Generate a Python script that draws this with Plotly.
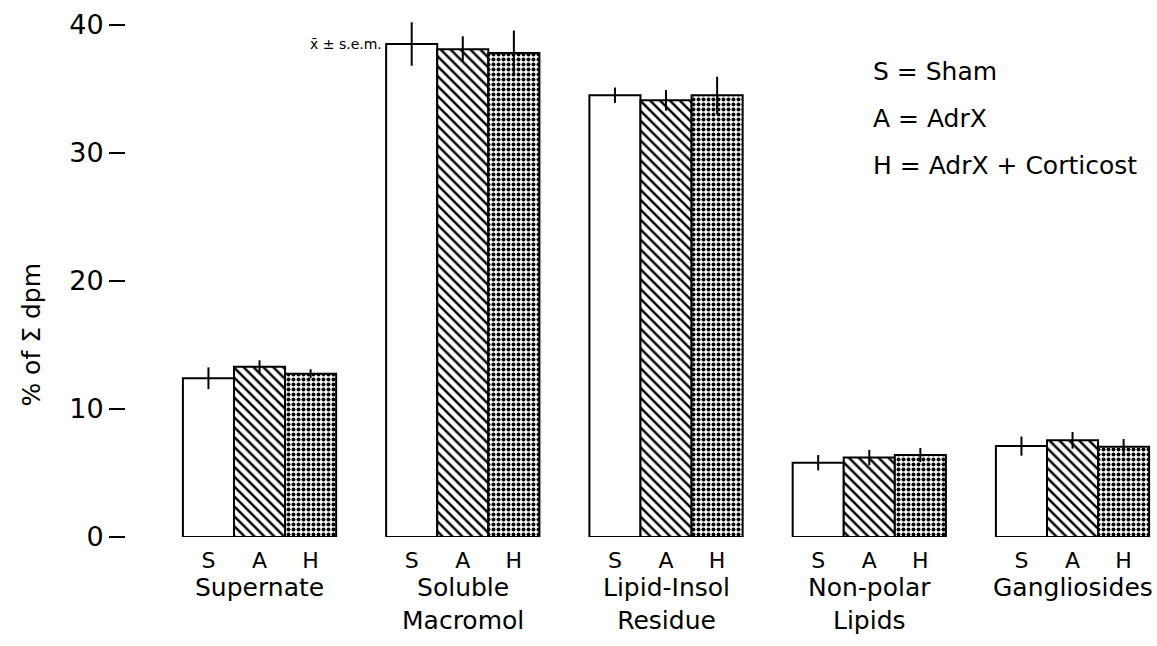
import plotly.graph_objects as go

groups = ["Supernate", "Soluble<br>Macromol", "Lipid-Insol<br>Residue", "Non-polar<br>Lipids", "Gangliosides"]
treatments = ["S", "A", "H"]
sham = [12.4, 38.5, 34.5, 5.8, 7.1]
sham_err = [0.85, 1.7, 0.6, 0.6, 0.75]
adrx = [13.3, 38.1, 34.1, 6.2, 7.55]
adrx_err = [0.5, 1.0, 0.8, 0.6, 0.65]
cort = [12.75, 37.8, 34.5, 6.4, 7.05]
cort_err = [0.35, 1.75, 1.45, 0.55, 0.6]
legend_lines = ["S = Sham", "A = AdrX", "H = AdrX + Corticost"]
yticks = [0, 10, 20, 30, 40]

FONT = "DejaVu Sans"
bargap = 0.246
w = (1 - bargap) / 3
xs = list(range(len(groups)))

fig = go.Figure()
series = [(sham, sham_err, dict(shape="", fgcolor="black", bgcolor="white")),
          (adrx, adrx_err, dict(shape="\\", fgcolor="black", bgcolor="white", fgopacity=1,
                                fillmode="replace", size=7, solidity=0.35)),
          (cort, cort_err, dict(shape=".", fgcolor="black", bgcolor="white", fgopacity=1,
                                fillmode="replace", size=5, solidity=0.5))]
for name, (vals, errs, pat) in zip(treatments, series):
    fig.add_trace(go.Bar(
        x=xs, y=vals, name=name,
        marker=dict(color="white", line=dict(color="black", width=2), pattern=pat),
        error_y=dict(type="data", array=errs, visible=True, color="black", thickness=2, width=0),
    ))

tickvals = []
ticktext = []
for i in xs:
    for k, t in enumerate(treatments):
        tickvals.append(i + (k - 1) * w)
        ticktext.append(t)

fig.update_layout(
    width=1157, height=646,
    margin=dict(l=126, r=5, t=12, b=109, autoexpand=False),
    paper_bgcolor="white", plot_bgcolor="white",
    barmode="group", bargap=bargap, bargroupgap=0,
    showlegend=False,
    font=dict(family=FONT, color="black"),
    xaxis=dict(range=[-0.657, 4.391], tickvals=tickvals, ticktext=ticktext, automargin=False,
               showline=False, showgrid=False, zeroline=False, ticks="", ticklabelstandoff=8,
               tickfont=dict(size=22, family=FONT)),
    yaxis=dict(range=[0, 41], tickvals=yticks, showline=False, showgrid=False, zeroline=False,
               automargin=False, ticks="outside", ticklen=16, tickwidth=2, tickcolor="black",
               tickfont=dict(size=27, family=FONT)),
)

for i, g in zip(xs, groups):
    fig.add_annotation(x=i, y=0, xref="x", yref="y", text=g, showarrow=False,
                       yanchor="top", yshift=-34, font=dict(size=25, family=FONT))

fig.add_annotation(x=1 - 1.5 * w, y=sham[1], xref="x", yref="y", text="x\u0304 \u00b1 s.e.m.",
                   showarrow=False, xanchor="right", yanchor="middle", xshift=-2,
                   font=dict(size=14, family=FONT))

for j, line in enumerate(legend_lines):
    fig.add_annotation(x=0.726, y=0.886 - j * 0.089, xref="paper", yref="paper", text=line,
                       showarrow=False, xanchor="left", yanchor="middle", font=dict(size=25, family=FONT))

fig.add_annotation(x=-0.093, y=(537 - 335) / 525, xref="paper", yref="paper", text="% of \u03a3 dpm",
                   showarrow=False, textangle=-90, xanchor="center", yanchor="middle",
                   font=dict(size=25, family=FONT))

fig.write_html("out.html", config={"displayModeBar": False},
               post_script="document.body.style.margin='0';")
